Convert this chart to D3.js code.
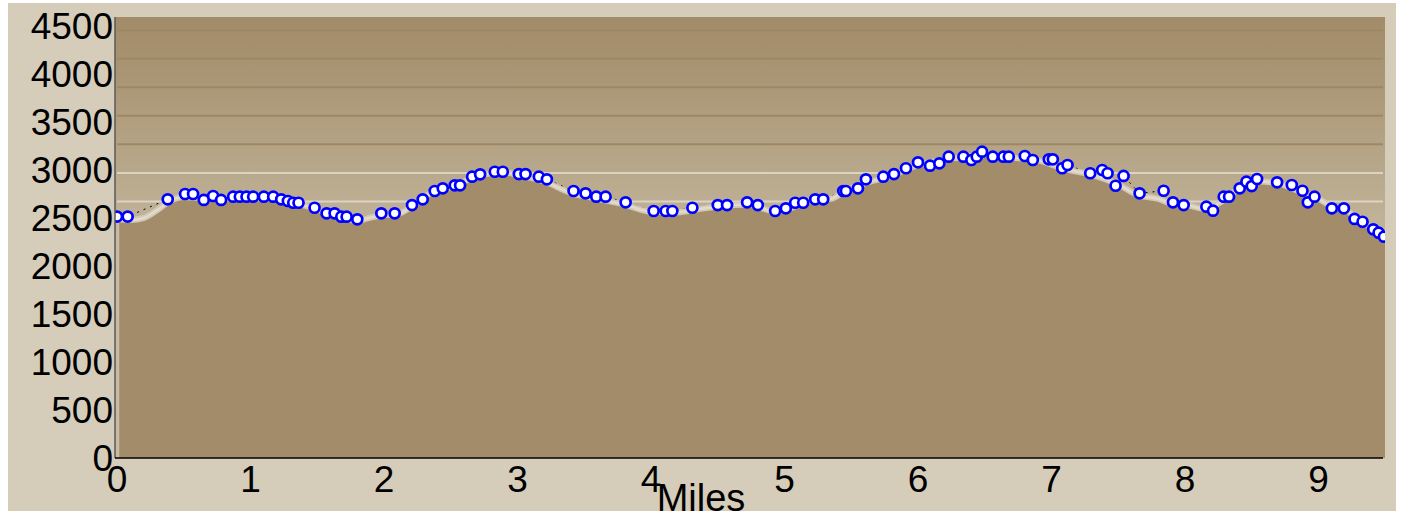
<!DOCTYPE html>
<html>
<head>
<meta charset="utf-8">
<script src="https://cdn.jsdelivr.net/npm/d3@7/dist/d3.min.js"></script>
<style>
  html, body { margin: 0; padding: 0; background: #ffffff; }
  svg { display: block; }
  text { font-family: "Liberation Sans", Arial, sans-serif; fill: #000; }
</style>
</head>
<body>
<svg id="chart" width="1403" height="520"></svg>
<script>
// ---- data ----
const waypointMiles = [0.00,0.08,0.38,0.51,0.57,0.65,0.72,0.78,0.87,0.92,0.97,1.02,1.10,1.17,1.23,1.28,1.32,1.36,1.48,1.57,1.63,1.68,1.72,1.80,1.98,2.08,2.21,2.29,2.38,2.44,2.53,2.57,2.66,2.72,2.83,2.89,3.01,3.06,3.16,3.22,3.42,3.51,3.59,3.66,3.81,4.02,4.11,4.16,4.31,4.50,4.57,4.72,4.80,4.93,5.01,5.08,5.14,5.23,5.29,5.44,5.46,5.55,5.61,5.74,5.82,5.91,6.00,6.09,6.16,6.23,6.34,6.40,6.44,6.48,6.56,6.64,6.68,6.80,6.86,6.98,7.01,7.08,7.12,7.29,7.38,7.42,7.48,7.54,7.66,7.84,7.91,7.99,8.16,8.21,8.29,8.33,8.41,8.46,8.50,8.54,8.69,8.80,8.88,8.92,8.97,9.10,9.19,9.27,9.33,9.41,9.45,9.49];
const waypointElev = [2515,2515,2695,2750,2750,2688,2729,2688,2722,2722,2722,2722,2722,2722,2695,2677,2659,2659,2607,2549,2549,2514,2514,2486,2549,2549,2635,2695,2781,2809,2840,2840,2930,2955,2982,2982,2958,2958,2930,2903,2781,2757,2722,2722,2663,2573,2573,2573,2607,2635,2635,2663,2635,2573,2601,2659,2659,2695,2695,2781,2781,2809,2903,2930,2958,3018,3080,3045,3070,3139,3139,3104,3139,3191,3139,3139,3139,3146,3104,3111,3111,3018,3052,2966,3000,2966,2836,2938,2757,2784,2663,2635,2618,2576,2722,2722,2809,2878,2833,2906,2872,2844,2784,2663,2722,2601,2601,2490,2461,2382,2347,2305];

const terrainMiles = [0.00,0.10,0.20,0.30,0.40,0.50,0.60,0.80,1.00,1.20,1.35,1.50,1.65,1.80,1.90,2.00,2.10,2.20,2.35,2.50,2.65,2.80,2.90,3.00,3.20,3.40,3.60,3.80,4.00,4.20,4.35,4.50,4.75,4.90,5.00,5.20,5.35,5.45,5.60,5.80,6.00,6.20,6.40,6.50,6.70,6.90,7.10,7.30,7.50,7.65,7.80,7.90,8.00,8.15,8.25,8.40,8.55,8.70,8.85,9.00,9.10,9.20,9.30,9.40,9.50];
const terrainElev = [2490,2480,2500,2580,2680,2720,2710,2700,2705,2700,2650,2590,2520,2470,2505,2530,2540,2610,2760,2820,2910,2965,2975,2950,2880,2760,2700,2640,2565,2560,2590,2620,2640,2575,2585,2680,2700,2780,2860,2940,3050,3110,3140,3170,3130,3100,3010,2950,2850,2735,2700,2650,2640,2595,2650,2800,2880,2860,2780,2700,2620,2590,2470,2400,2300];

const yTicks = [0,500,1000,1500,2000,2500,3000,3500,4000,4500];
const xTicks = [0,1,2,3,4,5,6,7,8,9];
const xTitle = "Miles";

// ---- layout ----
const svg = d3.select("#chart");
const plotL = 115, plotR = 1385, plotT = 17, plotB = 458;

const x = d3.scaleLinear().domain([0, 9.5]).range([117, 117 + 133.5 * 9.5]);
const y = d3.scaleLinear().domain([0, 4500]).range([458, 26]);

// panel
svg.append("rect").attr("x", 8).attr("y", 3).attr("width", 1388).attr("height", 508).attr("fill", "#D5CCBA");

const defs = svg.append("defs");
const g = defs.append("linearGradient").attr("id", "sky")
  .attr("gradientUnits", "userSpaceOnUse").attr("x1", 0).attr("y1", plotT).attr("x2", 0).attr("y2", 240);
g.append("stop").attr("offset", "0%").attr("stop-color", "#A28B68");
g.append("stop").attr("offset", "25%").attr("stop-color", "#A99574");
g.append("stop").attr("offset", "60%").attr("stop-color", "#B5A486");
g.append("stop").attr("offset", "100%").attr("stop-color", "#C3B69D");

const clip = defs.append("clipPath").attr("id", "plotClip");
clip.append("rect").attr("x", plotL).attr("y", plotT).attr("width", plotR - plotL).attr("height", plotB - plotT);

svg.append("rect").attr("x", plotL).attr("y", plotT).attr("width", plotR - plotL).attr("height", plotB - plotT)
  .attr("fill", "url(#sky)");

const plot = svg.append("g").attr("clip-path", "url(#plotClip)");

// decorative sky bands
const bandStep = 297;
const bands = d3.range(1, 16).map(k => k * bandStep);
plot.selectAll("line.band").data(bands).join("line")
  .attr("class", "band")
  .attr("x1", plotL + 2).attr("x2", plotR - 2)
  .attr("y1", d => y(d)).attr("y2", d => y(d))
  .attr("stroke", d => d < 3100 ? "#DCD3C3" : "#9E8864")
  .attr("stroke-width", 2);

// waypoint connecting line (mostly hidden by terrain)
const wp = waypointMiles.map((m, i) => [m, waypointElev[i]]);
plot.append("path")
  .attr("d", d3.line().x(d => x(d[0])).y(d => y(d[1]))(wp))
  .attr("fill", "none").attr("stroke", "#000").attr("stroke-width", 1)
  .attr("stroke-dasharray", "2,5");

// terrain
const tr = terrainMiles.map((m, i) => [m, terrainElev[i]]);
plot.append("path")
  .attr("d", d3.area().x(d => x(d[0])).y0(y(0)).y1(d => y(d[1])).curve(d3.curveMonotoneX)(tr))
  .attr("fill", "#A38C69");
plot.append("path")
  .attr("d", d3.line().x(d => x(d[0])).y(d => y(d[1])).curve(d3.curveMonotoneX)(tr))
  .attr("fill", "none").attr("stroke", "#D2C8B5").attr("stroke-width", 6);
plot.append("path")
  .attr("d", d3.line().x(d => x(d[0])).y(d => y(d[1])).curve(d3.curveMonotoneX)(tr))
  .attr("fill", "none").attr("stroke", "#E2DBCC").attr("stroke-width", 2.5);
// left light edge
plot.append("line").attr("x1", x(0) + 1).attr("x2", x(0) + 1)
  .attr("y1", y(terrainElev[0])).attr("y2", plotB)
  .attr("stroke", "#C9BCA4").attr("stroke-width", 2.5);

// waypoints
plot.selectAll("circle.wp").data(wp).join("circle")
  .attr("class", "wp")
  .attr("cx", d => x(d[0])).attr("cy", d => y(d[1]))
  .attr("r", 5)
  .attr("fill", "#fff").attr("stroke", "#0000FF").attr("stroke-width", 2.7);

// axis lines
svg.append("line").attr("x1", plotL).attr("x2", plotL).attr("y1", plotT).attr("y2", plotB)
  .attr("stroke", "#5a5a5a").attr("stroke-width", 1.5);
svg.append("line").attr("x1", plotL).attr("x2", 1383).attr("y1", plotB).attr("y2", plotB)
  .attr("stroke", "#000").attr("stroke-width", 1.5);

// y labels
svg.selectAll("text.yl").data(yTicks).join("text")
  .attr("class", "yl")
  .attr("x", 113).attr("y", d => y(d))
  .attr("text-anchor", "end").attr("dominant-baseline", "central")
  .attr("font-size", 37)
  .text(d => d);

// x labels
svg.selectAll("text.xl").data(xTicks).join("text")
  .attr("class", "xl")
  .attr("x", d => x(d)).attr("y", 492)
  .attr("text-anchor", "middle")
  .attr("font-size", 37)
  .text(d => d);

svg.append("text").attr("x", 701).attr("y", 511).attr("text-anchor", "middle")
  .attr("font-size", 38).text(xTitle);
</script>
</body>
</html>
